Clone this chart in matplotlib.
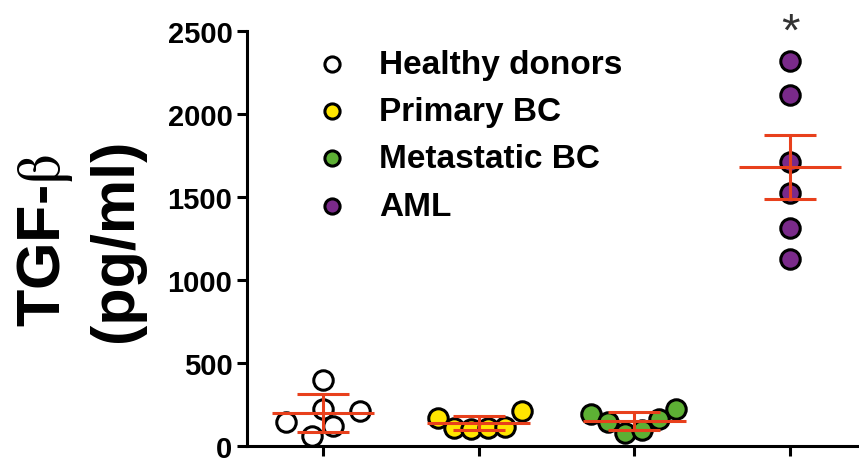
import numpy as np
import matplotlib.pyplot as plt

plt.rcParams['font.family'] = ['Liberation Sans', 'DejaVu Sans']
plt.rcParams['mathtext.fontset'] = 'stix'

# group names and measured values (pg/ml)
groups = ["Healthy donors", "Primary BC", "Metastatic BC", "AML"]
healthy = [398, 145, 223, 211, 120, 60]
primary = [169, 211, 110, 105, 108, 112]
metastatic = [193, 145, 78, 96, 163, 223]
aml = [2319, 2114, 1711, 1524, 1313, 1127]
means = [199, 139, 151, 1681]
errs = [117, 43, 55, 190]

# horizontal scatter of dots within each column (layout only)
jitter = [
    [0.0, -0.24, 0.0, 0.24, 0.065, -0.07],
    [-0.26, 0.28, -0.16, -0.05, 0.06, 0.17],
    [-0.28, -0.17, -0.06, 0.05, 0.16, 0.27],
    [0, 0, 0, 0, 0, 0],
]
colors = ['white', '#FFE600', '#5DB034', '#7A2A8A']
red = '#E8401C'

fig = plt.figure(figsize=(8.59, 4.6), dpi=100)
ax = fig.add_axes([0.2876, 0.0283, 0.7124, 0.902])

series = [healthy, primary, metastatic, aml]
for i, vals in enumerate(series):
    xs = np.full(len(vals), i + 1.0) + np.array(jitter[i])
    ax.scatter(xs, vals, s=14**2, facecolor=colors[i], edgecolor='black',
               linewidth=2.2, zorder=3, clip_on=False, label=groups[i])

xpos = np.arange(1, 5)
ax.hlines(means, xpos - 0.33, xpos + 0.33, color=red, linewidth=2.2, zorder=4)
ax.errorbar(xpos, means, yerr=errs, fmt='none', ecolor=red, elinewidth=2.2,
            capsize=18.4, capthick=2.2, zorder=4)

ax.text(4, 2490, '*', ha='center', va='center', fontsize=34, color='#333333',
        clip_on=False)

ax.set_xlim(0.512, 4.443)
ax.set_ylim(0, 2500)
ax.set_yticks([0, 500, 1000, 1500, 2000, 2500])
ax.set_xticks(xpos)
ax.set_xticklabels([])
for s in ['top', 'right']:
    ax.spines[s].set_visible(False)
for s in ['left', 'bottom']:
    ax.spines[s].set_linewidth(2.2)
ax.tick_params(axis='both', width=2.2, length=7, labelsize=21)
for lab in ax.get_yticklabels():
    lab.set_fontweight('bold')

fig.text(80 / 859, 1 - 240 / 460, 'TGF-$\\mathrm{\\beta}$\n(pg/ml)', rotation=90,
         ha='center', va='center', multialignment='center',
         fontsize=44, fontweight='bold', linespacing=1.3)

leg = ax.legend(loc='upper left', bbox_to_anchor=(0.085, 0.998), frameon=False,
                fontsize=24, markerscale=0.78, handletextpad=0.9,
                labelspacing=0.49, borderpad=0, handlelength=1.0)
for t in leg.get_texts():
    t.set_fontweight('bold')

fig.savefig('out.png', dpi=100)
